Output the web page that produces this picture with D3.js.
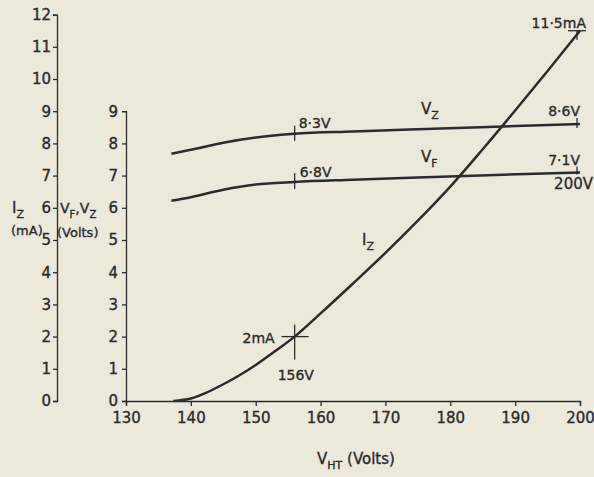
<!DOCTYPE html>
<html>
<head>
<meta charset="utf-8">
<script src="https://cdn.jsdelivr.net/npm/d3@7"></script>
<style>
  body { margin: 0; background: #ece8da; }
  svg { display: block; }
  text { font-family: "DejaVu Sans", sans-serif; fill: #2b2b2b; stroke: #2b2b2b; stroke-width: 0.35; }
  .axis path, .axis line { stroke: #2b2b2b; stroke-width: 1.3; }
  .axis text { font-size: 15px; }
</style>
</head>
<body>
<svg id="chart" width="594" height="477"></svg>
<script>
// tick values
var vhtTicks = [130, 140, 150, 160, 170, 180, 190, 200];
var izTicks = [0, 1, 2, 3, 4, 5, 6, 7, 8, 9, 10, 11, 12];
var voltTicks = [0, 1, 2, 3, 4, 5, 6, 7, 8, 9];

// Iz (mA) against V_HT
var izVolts = [137.3, 140, 142.5, 145, 147.5, 150, 153, 156, 160, 165, 170, 175, 180, 185, 190, 195, 200];
var izValues = [0, 0.08, 0.27, 0.52, 0.8, 1.12, 1.55, 2.0, 2.72, 3.65, 4.6, 5.6, 6.66, 7.82, 9.02, 10.25, 11.5];

// Vz and Vf (volts) against V_HT
var vVolts = [137, 140, 145, 150, 156, 165, 175, 187, 200];
var vzValues = [7.68, 7.8, 8.02, 8.18, 8.3, 8.37, 8.44, 8.52, 8.6];
var vfValues = [6.22, 6.33, 6.56, 6.72, 6.8, 6.87, 6.94, 7.02, 7.1];

var svg = d3.select('#chart');
var ink = '#2b2b2b';

var x = d3.scaleLinear().domain([130, 200]).range([126, 580]);
var yI = d3.scaleLinear().domain([0, 12]).range([401, 14.6]);
var yV = d3.scaleLinear().domain([0, 9]).range([401, 111.2]);

// axes
svg.append('g').attr('class', 'axis').attr('transform', 'translate(57,0)')
  .call(d3.axisLeft(yI).tickValues(izTicks).tickSize(4).tickSizeOuter(4).tickPadding(2));

svg.append('g').attr('class', 'axis').attr('transform', 'translate(126,0)')
  .call(d3.axisLeft(yV).tickValues(voltTicks).tickSize(4).tickSizeOuter(4).tickPadding(4));

svg.append('g').attr('class', 'axis').attr('transform', 'translate(0,401)')
  .call(d3.axisBottom(x).tickValues(vhtTicks).tickSize(5).tickSizeOuter(5).tickPadding(6));

svg.selectAll('.axis .domain').attr('fill', 'none');

// curves
var izLine = d3.line().curve(d3.curveCatmullRom.alpha(0.5))
  .x(function(d, i) { return x(izVolts[i]); })
  .y(function(d) { return yI(d); });
var vLine = d3.line().curve(d3.curveMonotoneX)
  .x(function(d, i) { return x(vVolts[i]); })
  .y(function(d) { return yV(d); });

[[izLine, izValues], [vLine, vzValues], [vLine, vfValues]].forEach(function(c) {
  svg.append('path')
    .attr('d', c[0](c[1]))
    .attr('fill', 'none')
    .attr('stroke', ink)
    .attr('stroke-width', 2.5);
});

// marker strokes
function mark(x1, y1, x2, y2) {
  svg.append('line').attr('x1', x1).attr('y1', y1).attr('x2', x2).attr('y2', y2)
    .attr('stroke', ink).attr('stroke-width', 1.3);
}
var xs = x(156), xe = x(200);
mark(xs, yV(8.3) - 8, xs, yV(8.3) + 7);
mark(xs, yV(6.8) - 9, xs, yV(6.8) + 7);
mark(xe - 3, yV(8.6) - 6, xe - 3, yV(8.6) + 4);
mark(xe - 3, yV(7.1) - 6, xe - 3, yV(7.1) + 2);
mark(xe - 12, yI(11.5), xe + 6, yI(11.5));
mark(xe - 3, yI(11.5), xe - 3, yI(11.5) + 9);
mark(x(156) - 13, yI(2), x(156) + 14, yI(2));
mark(x(156), yI(2) - 12, x(156), yI(2) + 23);

// annotations
function label(tx, ty, str, anchor, size) {
  svg.append('text').attr('x', tx).attr('y', ty)
    .attr('text-anchor', anchor || 'start')
    .style('font-size', (size || 14) + 'px')
    .text(str);
}
label(xs + 4, yV(8.3) - 6, '8·3V');
label(xs + 5, yV(6.8) - 5, '6·8V');
label(xe, yV(8.6) - 8, '8·6V', 'end');
label(xe, yV(7.1) - 7, '7·1V', 'end');
label(xe + 13, yV(7.1) + 17, '200V', 'end', 15);
label(xe + 6, yI(11.5) - 3, '11·5mA', 'end');
label(x(156) - 20, yI(2) + 6, '2mA', 'end');
label(x(156) - 17, yI(2) + 43, '156V');

// labels with subscripts
function subLabel(tx, ty, parts, size) {
  var t = svg.append('text').attr('x', tx).attr('y', ty).style('font-size', (size || 15) + 'px');
  parts.forEach(function(p) {
    var s = t.append('tspan').text(p[0]);
    if (p[1]) s.attr('dy', 5).style('font-size', ((size || 15) - 4) + 'px');
    else s.attr('dy', p[2] || 0);
  });
  return t;
}
subLabel(421, 114, [['V'], ['Z', true]]);
subLabel(421, 162, [['V'], ['F', true]]);
subLabel(362, 245, [['I'], ['Z', true]]);

subLabel(12, 213, [['I'], ['Z', true]]);
label(11, 235, '(mA)', 'start', 13);
subLabel(60, 213, [['V'], ['F', true], [',', false, -5], ['V'], ['Z', true]], 14);
label(57, 237, '(Volts)', 'start', 13);
subLabel(317, 464, [['V'], ['HT', true], [' (Volts)', false, -5]], 15);
</script>
</body>
</html>
